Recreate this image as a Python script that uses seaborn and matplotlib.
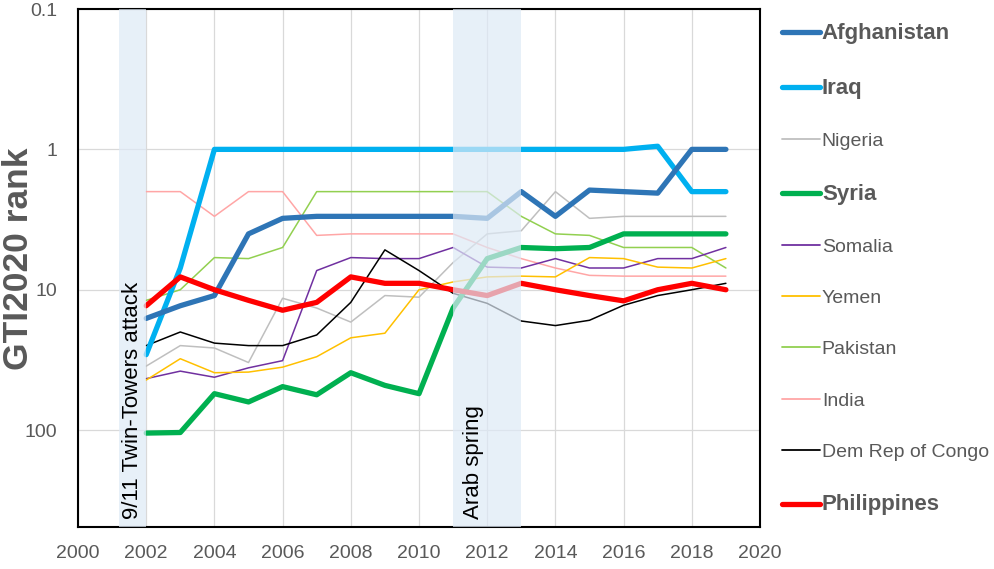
import numpy as np
import pandas as pd
import matplotlib
matplotlib.use('Agg')
import matplotlib.pyplot as plt
import seaborn as sns

# Years covered by the chart
years = list(range(2002, 2020))

# GTI ranks, one list per country
afghanistan = [16, 13, 11, 4, 3.1, 3, 3, 3, 3, 3, 3.1, 2, 3, 1.95, 2, 2.05, 1, 1]
iraq = [29, 7, 1, 1, 1, 1, 1, 1, 1, 1, 1, 1, 1, 1, 1, 0.95, 2, 2]
nigeria = [35, 25, 26, 33, 11.5, 13.5, 17, 11, 11.3, 6.4, 4, 3.8, 2, 3.1, 3, 3, 3, 3]
syria = [105, 104, 55, 63, 49, 56, 39, 48, 55, 13.5, 6, 5, 5.1, 5, 4, 4, 4, 4]
somalia = [43, 38, 42, 36, 32, 7.3, 5.9, 6, 6, 5, 6.9, 7, 6, 7, 7, 6, 6, 5]
yemen = [44, 31, 39, 38.6, 35.6, 30, 22, 20.4, 10, 8.8, 8.1, 8, 8.1, 5.9, 6, 6.9, 7, 6]
pakistan = [11.9, 10, 5.9, 6, 5, 2, 2, 2, 2, 2, 2, 3, 4, 4.1, 5, 5, 5, 7]
india = [2, 2, 3, 2, 2, 4.1, 4, 4, 4, 4, 5, 6, 7, 7.9, 8, 8, 8, 8]
drc = [25, 20, 24, 25, 25, 21, 12.3, 5.2, 7.3, 10.6, 12.5, 16.7, 18, 16.5, 12.9, 11, 10, 9]
philippines = [13, 8.1, 10, 11.9, 14, 12.3, 8.1, 9, 9, 10, 11, 9, 10, 11, 12, 10, 9, 10]

countries = ['Afghanistan', 'Iraq', 'Nigeria', 'Syria', 'Somalia', 'Yemen',
             'Pakistan', 'India', 'Dem Rep of Congo', 'Philippines']
series = [afghanistan, iraq, nigeria, syria, somalia, yemen,
          pakistan, india, drc, philippines]
colors = ['#2E75B6', '#00B0F0', '#BFBFBF', '#00B050', '#7030A0', '#FFC000',
          '#92D050', '#FFA6A6', '#000000', '#FF0000']
bold = ['Afghanistan', 'Iraq', 'Syria', 'Philippines']

# Long format table for seaborn
df = pd.DataFrame({
    'year': np.tile(years, len(countries)),
    'rank': np.concatenate(series),
    'country': np.repeat(countries, len(years)),
})

sns.set_style("white")
plt.rcParams['font.family'] = ['Liberation Sans', 'DejaVu Sans']

fig = plt.figure(figsize=(9.95, 5.69), dpi=100)
ax = fig.add_axes([78 / 995, 1 - 527 / 569, (760 - 78) / 995, (527 - 9) / 569])

# thin lines first, bold ones on top
draw_order = ['India', 'Nigeria', 'Pakistan', 'Somalia', 'Yemen', 'Dem Rep of Congo',
              'Syria', 'Iraq', 'Afghanistan', 'Philippines']
for i, c in enumerate(draw_order):
    k = countries.index(c)
    lw = 3.8 if c in bold else 1.1
    sns.lineplot(data=df[df['country'] == c], x='year', y='rank', color=colors[k],
                 linewidth=lw, ax=ax, zorder=2 + i * 0.01,
                 solid_capstyle='round', solid_joinstyle='round')

ax.set_yscale('log')
ax.set_ylim(490, 0.1)
ax.set_yticks([0.1, 1, 10, 100])
ax.set_yticklabels(['0.1', '1', '10', '100'])
ax.yaxis.set_minor_locator(matplotlib.ticker.NullLocator())
ax.set_xlim(2000, 2020)
ax.set_xticks(range(2000, 2021, 2))
ax.tick_params(axis='both', labelsize=14, labelcolor='#595959', length=0)
ax.tick_params(axis='x', pad=13)
ax.tick_params(axis='y', pad=15)
ax.grid(True, color='#D9D9D9', linewidth=0.9)
ax.set_axisbelow(True)
for s in ax.spines.values():
    s.set_color('black')
    s.set_linewidth(1.5)

ax.set_xlabel('')
ax.set_ylabel('')
fig.text(19 / 995, 1 - 259 / 569, 'GTI2020 rank', rotation=90, ha='center', va='center',
         fontsize=25.5, fontweight='bold', color='#595959')

# event bands, drawn over the lines so they fade them
ax.axvspan(2001.2, 2002, color='#DEEAF6', alpha=0.7, zorder=5, lw=0)
ax.axvspan(2011, 2013, color='#DEEAF6', alpha=0.7, zorder=5, lw=0)
ax.text(2001.6, 430, '9/11 Twin-Towers attack', rotation=90, ha='center', va='bottom',
        fontsize=16, color='black', zorder=6)
ax.text(2011.6, 430, 'Arab spring', rotation=90, ha='center', va='bottom',
        fontsize=16, color='black', zorder=6)

# legend on the right
handles = []
for c in countries:
    k = countries.index(c)
    lw = 3.8 if c in bold else 1.3
    handles.append(matplotlib.lines.Line2D([], [], color=colors[k], lw=lw,
                                           solid_capstyle='round'))
leg = fig.legend(handles, countries, loc='upper left', bbox_to_anchor=(782 / 995, 1 - 23 / 569),
                 frameon=False, handlelength=1.95, handletextpad=0.1, labelspacing=1.73,
                 fontsize=14, borderpad=0, borderaxespad=0)
for t in leg.get_texts():
    t.set_color('#595959')
    if t.get_text() in bold:
        t.set_fontweight('bold')
        t.set_fontsize(16)

fig.savefig('out.png', dpi=100)
